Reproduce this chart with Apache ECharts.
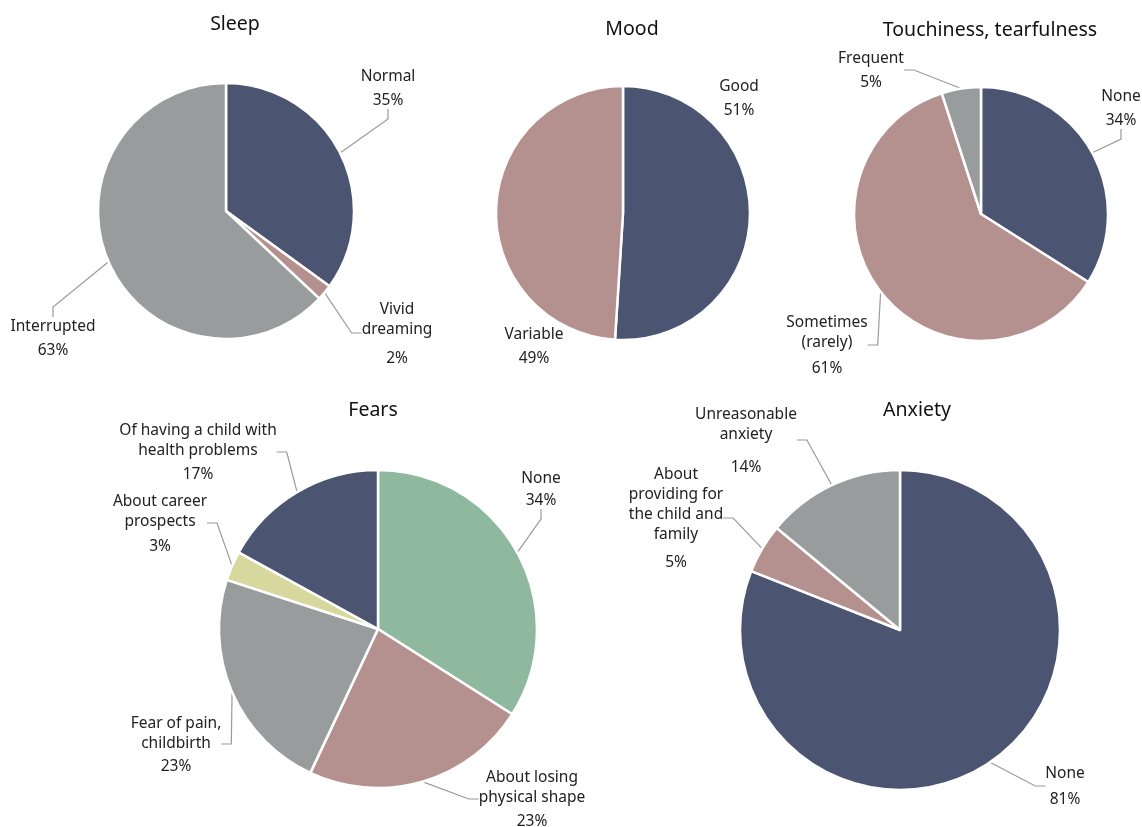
<!DOCTYPE html>
<html><head><meta charset="utf-8">
<script src="https://cdn.jsdelivr.net/npm/echarts@6/dist/echarts.min.js"></script>
<style>html,body{margin:0;padding:0;background:#fff}#c{width:1142px;height:827px}</style>
</head><body><div id="c"></div>
<script>
const titles = ["Sleep", "Mood", "Touchiness, tearfulness", "Fears", "Anxiety"];

const sleepNames = ["Normal", "Vivid\ndreaming", "Interrupted"];
const sleepValues = [35, 2, 63];

const moodNames = ["Good", "Variable"];
const moodValues = [51, 49];

const touchNames = ["None", "Sometimes\n(rarely)", "Frequent"];
const touchValues = [34, 61, 5];

const fearNames = ["None", "About losing\nphysical shape", "Fear of pain,\nchildbirth", "About career\nprospects", "Of having a child with\nhealth problems"];
const fearValues = [34, 23, 23, 3, 17];

const anxietyNames = ["None", "About\nproviding for\nthe child and\nfamily", "Unreasonable\nanxiety"];
const anxietyValues = [81, 5, 14];

const C = {navy: "#4b5571", rose: "#b4918e", gray: "#989c9d", green: "#8fb99f", yellow: "#d6d89d"};
const FONT = "Noto Sans";

function mk(names, values, colors) {
  return names.map((n, i) => ({name: n, value: values[i], itemStyle: {color: colors[i]}}));
}

// label placement (layout/styling only): [x, y, lineHeightOfPercentLine]
const labelPlace = [
  [[388, 88, 22], [397, 333, 27], [53, 338, 22]],
  [[739, 98, 22], [534, 346, 22]],
  [[1121, 108, 22], [827, 345, 24], [871, 70, 22]],
  [[541, 489, 20], [532, 799, 22], [176, 744, 21], [160, 523, 23], [198, 452, 22]],
  [[1065, 786, 24], [676, 518, 26], [746, 440, 31]]
];

const pies = [
  {data: mk(sleepNames, sleepValues, [C.navy, C.rose, C.gray]), center: [226, 211], r: 128, line: true},
  {data: mk(moodNames, moodValues, [C.navy, C.rose]), center: [623, 213], r: 127, line: false},
  {data: mk(touchNames, touchValues, [C.navy, C.rose, C.gray]), center: [981, 214], r: 127, line: true},
  {data: mk(fearNames, fearValues, [C.green, C.rose, C.gray, C.yellow, C.navy]), center: [378, 629], r: 159, line: true},
  {data: mk(anxietyNames, anxietyValues, [C.navy, C.rose, C.gray]), center: [900, 630], r: 160, line: true}
];
const titlePos = [[230, 9], [627, 14], [985, 15], [368, 395], [912, 395]];

const chart = echarts.init(document.getElementById('c'));
chart.setOption({
  backgroundColor: '#fff',
  animation: false,
  title: titles.map((t, i) => ({
    text: t, left: titlePos[i][0], top: titlePos[i][1], textAlign: 'center',
    textStyle: {fontFamily: FONT, fontSize: 19.5, fontWeight: 'normal', color: '#111'}
  })),
  series: pies.map((p, si) => ({
    type: 'pie',
    center: p.center,
    radius: [0, p.r],
    startAngle: 90,
    clockwise: true,
    avoidLabelOverlap: false,
    itemStyle: {borderColor: '#fff', borderWidth: 2.5},
    label: {
      show: true,
      overflow: 'none',
      fontFamily: FONT, fontSize: 15.5, color: '#222', lineHeight: 20,
      formatter: d => {
        const names = d.name.split('\n').map(s => '{a|' + s + '}').join('\n');
        return names + '\n{g' + d.dataIndex + '|' + d.value + '%}';
      },
      rich: Object.assign(
        {a: {align: 'center', fontFamily: FONT, fontSize: 15.5, color: '#222', lineHeight: 20}},
        Object.fromEntries(labelPlace[si].map((lp, i) => ['g' + i,
          {align: 'center', fontFamily: FONT, fontSize: 15.5, color: '#222', lineHeight: lp[2], verticalAlign: 'bottom'}]))
      )
    },
    labelLine: {show: p.line, length: 14, length2: 10, lineStyle: {color: '#9a9a9a', width: 1.2}},
    labelLayout: params => {
      const lp = labelPlace[si][params.dataIndex];
      return {x: lp[0], y: lp[1], align: 'center', verticalAlign: 'middle'};
    },
    emphasis: {disabled: true},
    data: p.data
  }))
});
</script></body></html>
